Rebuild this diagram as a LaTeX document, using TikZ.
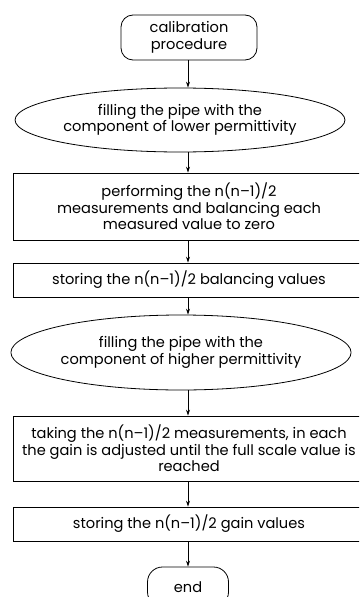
\documentclass[tikz,border=0pt]{standalone}
\usepackage{fontspec}
\setmainfont{Poppins}
\usetikzlibrary{arrows.meta,shapes.geometric}
\begin{document}
\begin{tikzpicture}[x=1pt,y=-1pt,
  every node/.style={font=\fontsize{14.6}{16.5}\selectfont, align=center, inner sep=0pt},
  term/.style={draw, rounded corners=12pt, line width=0.8pt},
  proc/.style={draw, rectangle, line width=0.8pt, minimum width=352pt},
  fill/.style={draw, ellipse, line width=0.8pt},
  conn/.style={-{Stealth[length=6pt,width=4pt]}, line width=0.8pt}]
\useasboundingbox (0,0) rectangle (359,597);
\clip (0,0) rectangle (359,597);
\node[term, minimum width=136pt, minimum height=45pt] (start) at (189,37.5) {calibration\\procedure};
\node[fill, minimum width=246pt, minimum height=64pt] (e1) at (180,120) {filling the pipe with the\\component of lower permittivity};
\node[proc, minimum height=67pt] (b1) at (189,206.5) {performing the n(n–1)/2\\measurements and balancing each\\measured value to zero};
\node[proc, minimum height=34pt] (b2) at (189,280) {storing the n(n–1)/2 balancing values};
\node[fill, minimum width=247pt, minimum height=75pt] (e2) at (181,352.5) {filling the pipe with the\\component of higher permittivity};
\node[proc, minimum height=65pt] (b3) at (189,448.5) {taking the n(n–1)/2 measurements, in each\\the gain is adjusted until the full scale value is\\reached};
\node[proc, minimum height=34pt] (b4) at (189,524) {storing the n(n–1)/2 gain values};
\node[term, rounded corners=15pt, minimum width=81pt, minimum height=40pt] (end) at (188,587) {end};
\draw[conn] (start.south -| 188,0) -- (e1.north -| 188,0);
\draw[conn] (e1.south -| 188,0) -- (b1.north -| 188,0);
\draw[conn] (b1.south -| 188,0) -- (b2.north -| 188,0);
\draw[conn] (b2.south -| 188,0) -- (e2.north -| 188,0);
\draw[conn] (e2.south -| 188,0) -- (b3.north -| 188,0);
\draw[conn] (b3.south -| 188,0) -- (b4.north -| 188,0);
\draw[conn] (b4.south -| 188,0) -- (end.north -| 188,0);
\end{tikzpicture}
\end{document}
